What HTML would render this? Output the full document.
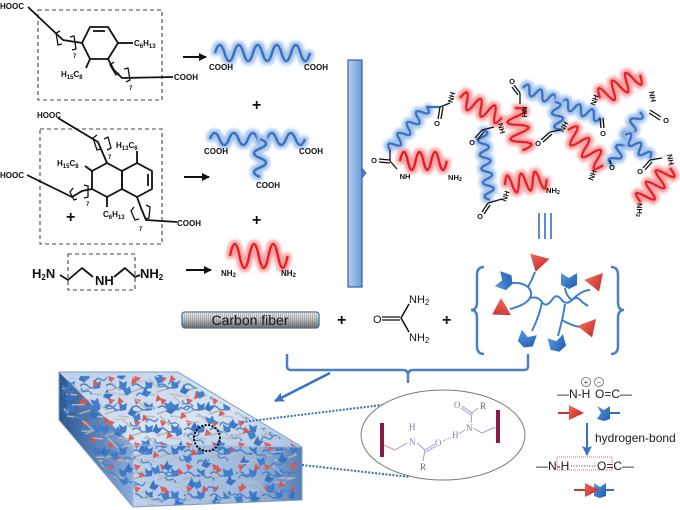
<!DOCTYPE html>
<html><head><meta charset="utf-8">
<style>
html,body{margin:0;padding:0;background:#fff;}
svg{display:block;}
text{font-family:"Liberation Sans",Arial,sans-serif;}
.lb{font-weight:bold;font-size:8px;fill:#111;}
.nl{font-weight:bold;font-size:7.5px;fill:#111;}
.ch{stroke:#111;stroke-width:1.8;fill:none;stroke-linejoin:round;}
.bw{stroke:#3a70c0;stroke-width:2.5;fill:none;filter:url(#gb);stroke-linejoin:round;}
.rw{stroke:#e61e28;stroke-width:2.5;fill:none;filter:url(#gr);stroke-linejoin:round;}
.bd{stroke:#111;stroke-width:1.3;fill:none;}
.pl{stroke:#9a9ad8;stroke-width:1;fill:none;}
.ps{font-family:"Liberation Serif",serif;font-size:9px;fill:#8080cc;}
</style></head>
<body>
<svg width="680" height="510" viewBox="0 0 680 510" xmlns="http://www.w3.org/2000/svg">
<defs>
<filter id="gb" x="-0.3" y="-1.5" width="1.6" height="4">
<feMorphology in="SourceAlpha" operator="dilate" radius="2.5" result="d"/>
<feGaussianBlur in="d" stdDeviation="1.6" result="b"/>
<feFlood flood-color="#a3c4ee"/>
<feComposite in2="b" operator="in" result="g"/>
<feMerge><feMergeNode in="g"/><feMergeNode in="SourceGraphic"/></feMerge>
</filter>
<filter id="gr" x="-0.3" y="-1.5" width="1.6" height="4">
<feMorphology in="SourceAlpha" operator="dilate" radius="2.5" result="d"/>
<feGaussianBlur in="d" stdDeviation="1.6" result="b"/>
<feFlood flood-color="#f6a0a0"/>
<feComposite in2="b" operator="in" result="g"/>
<feMerge><feMergeNode in="g"/><feMergeNode in="SourceGraphic"/></feMerge>
</filter>
<marker id="ah" markerUnits="userSpaceOnUse" markerWidth="9" markerHeight="9" refX="7" refY="4.5" orient="auto"><path d="M0,0.5 L8,4.5 L0,8.5 z" fill="#111"/></marker>
<marker id="ahb" markerUnits="userSpaceOnUse" markerWidth="12" markerHeight="12" refX="9" refY="6" orient="auto"><path d="M0,1 L10,6 L0,11 L2,6 z" fill="#3a70c0"/></marker>
<linearGradient id="bar" x1="0" y1="0" x2="1" y2="0"><stop offset="0" stop-color="#b3cff2"/><stop offset="1" stop-color="#6d9ad6"/></linearGradient>
<linearGradient id="cf" x1="0" y1="0" x2="0" y2="1"><stop offset="0" stop-color="#f4f4f4"/><stop offset="0.45" stop-color="#c4c4c4"/><stop offset="1" stop-color="#6a6a6a"/></linearGradient>
<pattern id="hatch" width="2" height="4" patternUnits="userSpaceOnUse"><rect x="0" y="0" width="1" height="4" fill="#666" opacity="0.35"/></pattern>
<linearGradient id="rt" x1="0" y1="0" x2="1" y2="1"><stop offset="0" stop-color="#f26a60"/><stop offset="1" stop-color="#c01e1e"/></linearGradient>
<linearGradient id="bt" x1="0" y1="0" x2="1" y2="1"><stop offset="0" stop-color="#5a9ae4"/><stop offset="1" stop-color="#1f5aa8"/></linearGradient>
<path id="sw" d="M-8,-7 L0,-2 L8,-7 L8,5 L0,9 L-8,5 Z" fill="url(#bt)"/>
<path id="tr" d="M-10,-7 L10,-7 L0,9 Z" fill="url(#rt)"/>
<linearGradient id="topf" x1="0" y1="0" x2="1" y2="1"><stop offset="0" stop-color="#bcd1ea"/><stop offset="0.6" stop-color="#d9e5f2"/><stop offset="1" stop-color="#aac3e3"/></linearGradient>
<linearGradient id="leftf" x1="0" y1="0" x2="1" y2="0"><stop offset="0" stop-color="#2b5790"/><stop offset="1" stop-color="#8aacd8"/></linearGradient>
<linearGradient id="frontf" x1="0" y1="0" x2="1" y2="0"><stop offset="0" stop-color="#bcd1ea"/><stop offset="0.7" stop-color="#9bb8de"/><stop offset="1" stop-color="#557fb6"/></linearGradient>
<pattern id="pm" width="26" height="22" patternUnits="userSpaceOnUse">
<path d="M1,18 L13,14" stroke="#b0b0b0" stroke-width="1.6"/>
<path d="M14,20 L25,21" stroke="#bcbcbc" stroke-width="1.4"/>
<polygon points="4,2 11,4 6,9" fill="#dc5a52"/>
<path d="M15,6 l4,3 l4,-2 l-1,7 l-6,1 z" fill="#3b78c6"/>
<path d="M2,12 q4,-4 8,0 t8,0" stroke="#4a80c8" fill="none" stroke-width="1.4"/>
</pattern>
<pattern id="pm2" width="30" height="24" patternUnits="userSpaceOnUse" patternTransform="rotate(35) translate(7,5)">
<path d="M2,4 L16,6" stroke="#b8b8b8" stroke-width="1.5"/>
<polygon points="18,12 25,13 21,19" fill="#d9564f"/>
<path d="M4,12 l4,3 l4,-2 l-1,7 l-6,1 z" fill="#3470c0"/>
<path d="M12,2 q3,4 6,0 t6,0" stroke="#4a80c8" fill="none" stroke-width="1.4"/>
</pattern>
<pattern id="pm3" width="34" height="28" patternUnits="userSpaceOnUse" patternTransform="rotate(-20) translate(13,9)">
<path d="M3,5 l4,3 l4,-2 l-1,7 l-6,1 z" fill="#3b7ccc"/>
<path d="M14,18 q3,-4 6,0 t6,0" stroke="#4a80c8" fill="none" stroke-width="1.4"/>
<path d="M18,4 L30,8" stroke="#c0c0c0" stroke-width="1.4"/>
</pattern>
<clipPath id="bc"><polygon points="72,376 175,375 297,447 294,500 150,506 105,470 64,412 62,385"/></clipPath>
</defs>

<!-- ============ LEFT STRUCTURES ============ -->
<rect x="38" y="10" width="124" height="90" fill="none" stroke="#444" stroke-width="1.1" stroke-dasharray="4,3"/>
<text class="lb" x="0" y="9">HOOC</text>
<polyline class="ch" points="28,7 63,40 82,43"/>
<polyline class="bd" points="60,31 56,33 58,45 62,44"/>
<polyline class="bd" points="70,37 74,36 76,49 72,50"/>
<text class="lb" x="73" y="58" style="font-size:6px">7</text>
<polygon class="ch" points="90,27 108,27 118,43 108,59 90,59 82,43"/>
<line class="ch" x1="93" y1="31" x2="105" y2="31" stroke-width="1.2"/>
<line class="ch" x1="118" y1="43" x2="133" y2="43"/>
<text class="lb" x="134" y="46">C<tspan font-size="6" dy="2">6</tspan><tspan dy="-2">H</tspan><tspan font-size="6" dy="2">13</tspan></text>
<line class="ch" x1="90" y1="59" x2="86" y2="68"/>
<text class="lb" x="61" y="77">H<tspan font-size="6" dy="2">15</tspan><tspan dy="-2">C</tspan><tspan font-size="6" dy="2">8</tspan></text>
<polyline class="ch" points="108,59 114,70 122,78 173,77"/>
<polyline class="bd" points="114,62 110,65 116,75 119,73"/>
<polyline class="bd" points="124,69 128,68 130,80 126,82"/>
<text class="lb" x="129" y="90" style="font-size:6px">7</text>
<text class="lb" x="174" y="80">COOH</text>

<rect x="40" y="129" width="122" height="115" fill="none" stroke="#444" stroke-width="1.1" stroke-dasharray="4,3"/>
<text class="lb" x="37" y="118">HOOC</text>
<polyline class="ch" points="58,118 98,142 107,163"/>
<polyline class="bd" points="97,135 93,138 97,150 101,149"/>
<polyline class="bd" points="104,139 108,137 111,148 107,150"/>
<text class="lb" x="108" y="159" style="font-size:6px">7</text>
<polygon class="ch" points="107,163 122,171 122,189 107,197 92,189 92,171"/>
<polygon class="ch" points="122,171 137,163 152,171 152,189 137,197 122,189"/>
<line class="ch" x1="148" y1="174" x2="148" y2="186" stroke-width="1.2"/>
<line class="ch" x1="137" y1="163" x2="137" y2="151"/>
<text class="lb" x="116" y="148">H<tspan font-size="6" dy="2">13</tspan><tspan dy="-2">C</tspan><tspan font-size="6" dy="2">6</tspan></text>
<line class="ch" x1="92" y1="171" x2="85" y2="166"/>
<text class="lb" x="57" y="166">H<tspan font-size="6" dy="2">15</tspan><tspan dy="-2">C</tspan><tspan font-size="6" dy="2">8</tspan></text>
<line class="ch" x1="107" y1="197" x2="107" y2="207"/>
<text class="lb" x="103" y="217">C<tspan font-size="6" dy="2">6</tspan><tspan dy="-2">H</tspan><tspan font-size="6" dy="2">13</tspan></text>
<text class="lb" x="0" y="178">HOOC</text>
<polyline class="ch" points="27,175 72,197 82,191 92,189"/>
<polyline class="bd" points="73,188 70,192 74,200 77,199"/>
<polyline class="bd" points="84,185 88,186 88,197 84,198"/>
<text class="lb" x="86" y="206" style="font-size:6px">7</text>
<polyline class="ch" points="137,197 141,208 146,220 177,222"/>
<polyline class="bd" points="134,207 131,211 135,220 139,219"/>
<polyline class="bd" points="146,205 150,207 149,218 145,219"/>
<text class="lb" x="139" y="231" style="font-size:6px">7</text>
<text class="lb" x="177" y="226">COOH</text>
<text x="66" y="222" style="font-weight:bold;font-size:16px;fill:#111">+</text>

<rect x="68" y="254" width="67" height="36" fill="none" stroke="#444" stroke-width="1.1" stroke-dasharray="4,3"/>
<text x="32" y="278" style="font-weight:bold;font-size:13px;fill:#111">H<tspan font-size="8" dy="2">2</tspan><tspan dy="-2">N</tspan></text>
<polyline class="ch" points="60,275 68,280 82,268 93,277"/>
<text x="95" y="285" style="font-weight:bold;font-size:13px;fill:#111">NH</text>
<polyline class="ch" points="114,277 125,268 135,277 140,275"/>
<text x="140" y="278" style="font-weight:bold;font-size:13px;fill:#111">NH<tspan font-size="8" dy="2">2</tspan></text>

<line x1="183" y1="57" x2="206" y2="57" stroke="#111" stroke-width="2" marker-end="url(#ah)"/>
<line x1="184" y1="177" x2="209" y2="177" stroke="#111" stroke-width="2" marker-end="url(#ah)"/>
<line x1="186" y1="270" x2="211" y2="270" stroke="#111" stroke-width="2" marker-end="url(#ah)"/>

<path class="bw" transform="translate(215,53)" d="M0,0 q4.75,-16 9.5,0 t9.5,0 t9.5,0 t9.5,0 t9.5,0 t9.5,0 t9.5,0 t9.5,0 t9.5,0 t9.5,0"/>
<text class="lb" x="209" y="70">COOH</text>
<text class="lb" x="304" y="70">COOH</text>
<text x="252" y="110" style="font-weight:bold;font-size:16px;fill:#111">+</text>
<path class="bw" transform="translate(210,139)" d="M0,0 q4.75,-12 9.5,0 t9.5,0 t9.5,0 t9.5,0 t9.5,0 t9.5,0 t9.5,0 t9.5,0 t9.5,0 t9.5,0"/>
<path class="bw" transform="translate(260,139) rotate(90)" d="M0,0 q4.75,-12 9.5,0 t9.5,0 t9.5,0 t9.5,0"/>
<text class="lb" x="204" y="154">COOH</text>
<text class="lb" x="299" y="154">COOH</text>
<text class="lb" x="256" y="188">COOH</text>
<text x="252" y="225" style="font-weight:bold;font-size:16px;fill:#111">+</text>
<path class="rw" transform="translate(230,256)" d="M0,0 q4.8,-24 9.6,0 t9.6,0 t9.6,0 t9.6,0 t9.6,0 t9.6,0"/>
<text class="lb" x="221" y="276">NH<tspan font-size="6" dy="1">2</tspan></text>
<text class="lb" x="281" y="276">NH<tspan font-size="6" dy="1">2</tspan></text>

<rect x="348" y="60" width="14" height="227" fill="url(#bar)" stroke="#3d6aa8" stroke-width="1.3"/>
<path d="M362,168 L366,173 L362,178 Z" fill="#5a86c4" stroke="#3d6aa8" stroke-width="1"/>

<!-- ============ NETWORK ============ -->
<path class="bw" transform="translate(390,150) rotate(-49.3)" d="M0,0 q3.55,-10 7.1,0 t7.1,0 t7.1,0 t7.1,0 t7.1,0 t7.1,0 t7.1,0 t7.1,0"/>
<line x1="426" y1="107" x2="440" y2="107" stroke="#3a70c0" stroke-width="2.4"/>
<path class="bw" transform="translate(482,130) rotate(83.5)" d="M0,0 q3.5,-10 7,0 t7,0 t7,0 t7,0 t7,0 t7,0 t7,0 t7,0 t7,0 t7,0"/>
<path class="bw" transform="translate(523,88) rotate(21)" d="M0,0 q3.45,-10 6.9,0 t6.9,0 t6.9,0 t6.9,0 t6.9,0 t6.9,0 t6.9,0 t6.9,0 t6.9,0 t6.9,0 t6.9,0 t6.9,0"/>
<path class="bw" transform="translate(555,102) rotate(80)" d="M0,0 q3.5,-10 7,0 t7,0 t7,0 t7,0"/>
<path class="bw" transform="translate(640,112) rotate(118)" d="M0,0 q3.75,-10 7.5,0 t7.5,0 t7.5,0 t7.5,0 t7.5,0 t7.5,0 t7.5,0 t7.5,0"/>
<path class="bw" transform="translate(625,135) rotate(43)" d="M0,0 q3.4,-10 6.8,0 t6.8,0 t6.8,0 t6.8,0 t6.8,0"/>

<path class="rw" transform="translate(400,161)" d="M0,0 q3.9,-18 7.8,0 t7.8,0 t7.8,0 t7.8,0 t7.8,0 t7.8,0"/>
<path class="rw" transform="translate(460,98) rotate(25)" d="M0,0 q3.85,-16 7.7,0 t7.7,0 t7.7,0 t7.7,0 t7.7,0 t7.7,0"/>
<path class="rw" transform="translate(505,185) rotate(-8)" d="M0,0 q3.5,-18 7,0 t7,0 t7,0 t7,0 t7,0 t7,0"/>
<path class="rw" transform="translate(515,108) rotate(80)" d="M0,0 q4.3,-20 8.6,0 t8.6,0 t8.6,0 t8.6,0 t8.6,0"/>
<path class="rw" transform="translate(568,130) rotate(45)" d="M0,0 q4.15,-18 8.3,0 t8.3,0 t8.3,0 t8.3,0 t8.3,0 t8.3,0"/>
<path class="rw" transform="translate(600,98) rotate(-30)" d="M0,0 q3.85,-18 7.7,0 t7.7,0 t7.7,0 t7.7,0 t7.7,0 t7.7,0"/>
<path class="rw" transform="translate(670,168) rotate(131)" d="M0,0 q3.75,-18 7.5,0 t7.5,0 t7.5,0 t7.5,0 t7.5,0 t7.5,0"/>

<g class="bd">
<line x1="379" y1="159" x2="390" y2="160"/><line x1="379" y1="162" x2="390" y2="163"/>
<line x1="390" y1="161" x2="390" y2="150"/><line x1="390" y1="161" x2="397" y2="169"/>
<line x1="440" y1="107" x2="438" y2="119"/><line x1="443" y1="107" x2="441" y2="119"/>
<line x1="440" y1="107" x2="450" y2="103"/>
<line x1="482" y1="130" x2="475" y2="138"/><line x1="484" y1="132" x2="477" y2="140"/>
<line x1="482" y1="130" x2="494" y2="127"/>
<line x1="488" y1="203" x2="482" y2="212"/><line x1="490" y1="205" x2="484" y2="214"/>
<line x1="488" y1="203" x2="502" y2="199"/>
<line x1="520" y1="93" x2="514" y2="85"/><line x1="518" y1="95" x2="512" y2="87"/>
<line x1="520" y1="93" x2="520" y2="104"/>
<line x1="550" y1="132" x2="541" y2="140"/><line x1="552" y1="134" x2="543" y2="142"/>
<line x1="550" y1="132" x2="560" y2="130"/>
<line x1="600" y1="118" x2="601" y2="128"/><line x1="603" y1="118" x2="604" y2="128"/>
<line x1="650" y1="110" x2="661" y2="117"/><line x1="649" y1="113" x2="660" y2="120"/>
<line x1="610" y1="160" x2="611" y2="164"/>
<line x1="650" y1="160" x2="643" y2="168"/><line x1="652" y1="162" x2="645" y2="170"/>
<line x1="650" y1="160" x2="662" y2="158"/>
</g>
<g class="nl" text-anchor="middle">
<text x="374" y="163">O</text>
<text x="405" y="179">NH</text>
<text x="455" y="180">NH<tspan font-size="5.5" dy="1">2</tspan></text>
<text x="437" y="126">O</text>
<text x="472" y="145">O</text>
<text x="480" y="219">O</text>
<text x="553" y="193">NH<tspan font-size="5.5" dy="1">2</tspan></text>
<text x="512" y="84">O</text>
<text x="538" y="146">O</text>
<text x="603" y="136">O</text>
<text x="666" y="123">O</text>
<text x="612" y="170">O</text>
<text x="640" y="174">O</text>
<text transform="translate(454,98) rotate(-75)">NH</text>
<text transform="translate(499,129) rotate(75)">NH</text>
<text transform="translate(508,197) rotate(-70)">NH</text>
<text transform="translate(522,112) rotate(90)">NH</text>
<text transform="translate(566,128) rotate(-60)">NH</text>
<text transform="translate(597,101) rotate(-70)">NH</text>
<text transform="translate(650,97) rotate(80)">NH</text>
<text transform="translate(595,176) rotate(-70)">NH</text>
<text transform="translate(668,160) rotate(80)">NH</text>
<text transform="translate(637,210) rotate(90)">NH<tspan font-size="5.5" dy="1">2</tspan></text>
</g>

<g stroke="#5b8ad0" stroke-width="2">
<line x1="539" y1="213" x2="539" y2="239"/><line x1="545" y1="213" x2="545" y2="239"/><line x1="551" y1="213" x2="551" y2="239"/>
</g>

<!-- ============ MIDDLE ROW ============ -->
<rect x="182" y="312" width="137" height="16" rx="3" fill="url(#cf)" stroke="#4a70a0" stroke-width="1.3"/>
<rect x="184" y="313" width="133" height="14" fill="url(#hatch)"/>
<text x="250" y="325" text-anchor="middle" style="font-size:14px;fill:#1a1a1a">Carbon fiber</text>
<text x="337" y="325" style="font-weight:bold;font-size:16px;fill:#111">+</text>
<text x="373" y="323" style="font-size:11px;fill:#111">O</text>
<line x1="382" y1="317" x2="400" y2="317" stroke="#111" stroke-width="1.3"/>
<line x1="382" y1="320" x2="400" y2="320" stroke="#111" stroke-width="1.3"/>
<polyline points="409,304 401,318 409,332" fill="none" stroke="#111" stroke-width="1.5"/>
<text x="409" y="303" style="font-size:11px;fill:#111">NH<tspan font-size="8" dy="2">2</tspan></text>
<text x="409" y="341" style="font-size:11px;fill:#111">NH<tspan font-size="8" dy="2">2</tspan></text>
<text x="442" y="325" style="font-weight:bold;font-size:16px;fill:#111">+</text>

<g stroke="#4a80c8" stroke-width="2.5" fill="none">
<path d="M484,267 Q477,267 477,275 L477,302 Q477,310 471,310 Q477,310 477,318 L477,346 Q477,354 484,354"/>
<path d="M611,267 Q618,267 618,275 L618,302 Q618,310 624,310 Q618,310 618,318 L618,346 Q618,354 611,354"/>
</g>
<g stroke="#3f7fd0" stroke-width="2" fill="none">
<path d="M512,283 Q522,282 528,287 Q533,292 530,298 Q526,305 510,309"/>
<path d="M528,287 Q532,280 535,272"/>
<path d="M530,298 Q538,296 542,302 Q546,308 552,300 Q556,293 561,299 Q566,306 572,300 Q577,295 582,302 L588,306"/>
<path d="M565,288 Q566,296 572,300"/>
<path d="M572,300 Q582,290 590,290"/>
<path d="M542,302 Q540,314 532,331"/>
<path d="M565,304 Q563,318 558,336"/>
<path d="M562,320 Q572,326 580,327"/>
</g>
<use href="#sw" transform="translate(504,281) rotate(-70)"/>
<use href="#tr" transform="translate(538,263) rotate(15)"/>
<use href="#sw" transform="translate(569,280)"/>
<use href="#tr" transform="translate(596,283) rotate(-20)"/>
<use href="#tr" transform="translate(500,310) rotate(60)"/>
<use href="#sw" transform="translate(527,339) rotate(20)"/>
<use href="#sw" transform="translate(557,343) rotate(-15)"/>
<use href="#tr" transform="translate(589,329) rotate(-20)"/>

<path d="M287,354 L287,366 Q287,370 291,370 L403,370 Q408,370 408,375 L408,383 M408,375 Q408,370 413,370 L524,370 Q528,370 528,366 L528,354" stroke="#4a80c8" stroke-width="2.5" fill="none"/>
<line x1="330" y1="373" x2="275" y2="401" stroke="#3a70c0" stroke-width="2.5" marker-end="url(#ahb)"/>

<!-- ============ BLOCK ============ -->
<polygon points="59,372 133,445 133,507 59,420" fill="url(#leftf)"/>
<polygon points="133,445 302,447 302,500 133,507" fill="url(#frontf)"/>
<polygon points="59,372 178,372 302,447 133,445" fill="url(#topf)"/>
<g clip-path="url(#bc)" opacity="0.95">
<rect x="55" y="365" width="250" height="145" fill="url(#pm)"/>
<rect x="55" y="365" width="250" height="145" fill="url(#pm2)"/>
<rect x="55" y="365" width="250" height="145" fill="url(#pm3)"/>
</g>
<polygon points="59,372 178,372 302,447 302,500 133,507 59,420" fill="none" stroke="#7d9cc6" stroke-width="1"/>
<line x1="133" y1="445" x2="302" y2="447" stroke="#9fb8da" stroke-width="1"/>
<line x1="133" y1="445" x2="133" y2="507" stroke="#9fb8da" stroke-width="1"/>
<circle cx="207" cy="438" r="13" fill="none" stroke="#111" stroke-width="2.2" stroke-dasharray="0.1,3.4" stroke-linecap="round"/>

<line x1="242" y1="422" x2="382" y2="405" stroke="#3a70c0" stroke-width="2" stroke-dasharray="2,1.5"/>
<line x1="302" y1="465" x2="410" y2="477" stroke="#3a70c0" stroke-width="2" stroke-dasharray="2,1.5"/>

<ellipse cx="443" cy="435" rx="82" ry="45" fill="#fff" stroke="#7a7a7a" stroke-width="1"/>
<rect x="380" y="423" width="4" height="34" fill="#8a1a4a"/>
<rect x="496" y="410" width="4" height="33" fill="#8a1a4a"/>
<polyline points="384,445 395,450" stroke="#e08aa0" stroke-width="1" fill="none"/>
<polyline class="pl" points="395,450 407,443"/>
<text class="ps" x="409" y="445">N</text>
<text class="ps" x="409" y="430">H</text>
<polyline class="pl" points="417,443 425,450 423,461"/>
<line class="pl" x1="425" y1="450" x2="435" y2="444"/><line class="pl" x1="426" y1="452" x2="436" y2="446"/>
<text class="ps" x="435" y="446">O</text>
<text x="420" y="470" style="font-family:'Liberation Serif',serif;font-size:9px;fill:#666">R</text>
<line x1="443" y1="441" x2="452" y2="437" stroke="#e08aa0" stroke-width="1" stroke-dasharray="1.5,1"/>
<text class="ps" x="452" y="438">H</text>
<line class="pl" x1="459" y1="434" x2="465" y2="430"/>
<text class="ps" x="466" y="431">N</text>
<polyline class="pl" points="471,423 472,413 478,408"/>
<line class="pl" x1="472" y1="413" x2="462" y2="406"/><line class="pl" x1="471" y1="415" x2="461" y2="408"/>
<text class="ps" x="454" y="408">O</text>
<text x="480" y="409" style="font-family:'Liberation Serif',serif;font-size:9px;fill:#666">R</text>
<polyline class="pl" points="473,428 482,433 493,428 496,428"/>

<!-- ============ H-BOND LEGEND ============ -->
<circle cx="586" cy="382" r="4.5" fill="none" stroke="#666" stroke-width="0.8"/>
<text x="586" y="385" text-anchor="middle" style="font-size:8px;fill:#444">+</text>
<circle cx="599" cy="382" r="4.5" fill="none" stroke="#666" stroke-width="0.8"/>
<text x="599" y="385" text-anchor="middle" style="font-size:8px;fill:#444">−</text>
<text x="557" y="398" style="font-size:12px;fill:#1a1a1a">—N-H</text>
<text x="595" y="398" style="font-size:12px;fill:#1a1a1a">O=C—</text>
<line x1="558" y1="413" x2="570" y2="413" stroke="#d03030" stroke-width="2"/>
<path d="M569,405 L584,413 L569,420 Z" fill="url(#rt)"/>
<path d="M597,406 L604,410 L610,406 L610,419 L604,421 L597,419 L601,413 Z" fill="url(#bt)"/>
<line x1="610" y1="413" x2="620" y2="413" stroke="#3a70c0" stroke-width="2"/>
<line x1="587" y1="423" x2="587" y2="455" stroke="#3a70c0" stroke-width="2" marker-end="url(#ahb)"/>
<text x="595" y="442" style="font-size:12px;fill:#1a1a1a">hydrogen-bond</text>
<text x="536" y="470" style="font-size:12px;fill:#1a1a1a">—N-H</text>
<line x1="571" y1="466" x2="596" y2="466" stroke="#333" stroke-width="1" stroke-dasharray="1,1.6"/>
<text x="597" y="470" style="font-size:12px;fill:#1a1a1a">O=C—</text>
<rect x="557" y="457" width="55" height="13" fill="none" stroke="#e03030" stroke-width="0.8" stroke-dasharray="1,1"/>
<line x1="574" y1="490" x2="588" y2="490" stroke="#d03030" stroke-width="2"/>
<path d="M594,483 L600,487 L606,483 L606,496 L600,498 L594,496 Z" fill="url(#bt)"/>
<line x1="606" y1="490" x2="614" y2="490" stroke="#3a70c0" stroke-width="2"/>
<path d="M585,483 L599,490 L585,497 Z" fill="url(#rt)"/>
</svg>
</body></html>
